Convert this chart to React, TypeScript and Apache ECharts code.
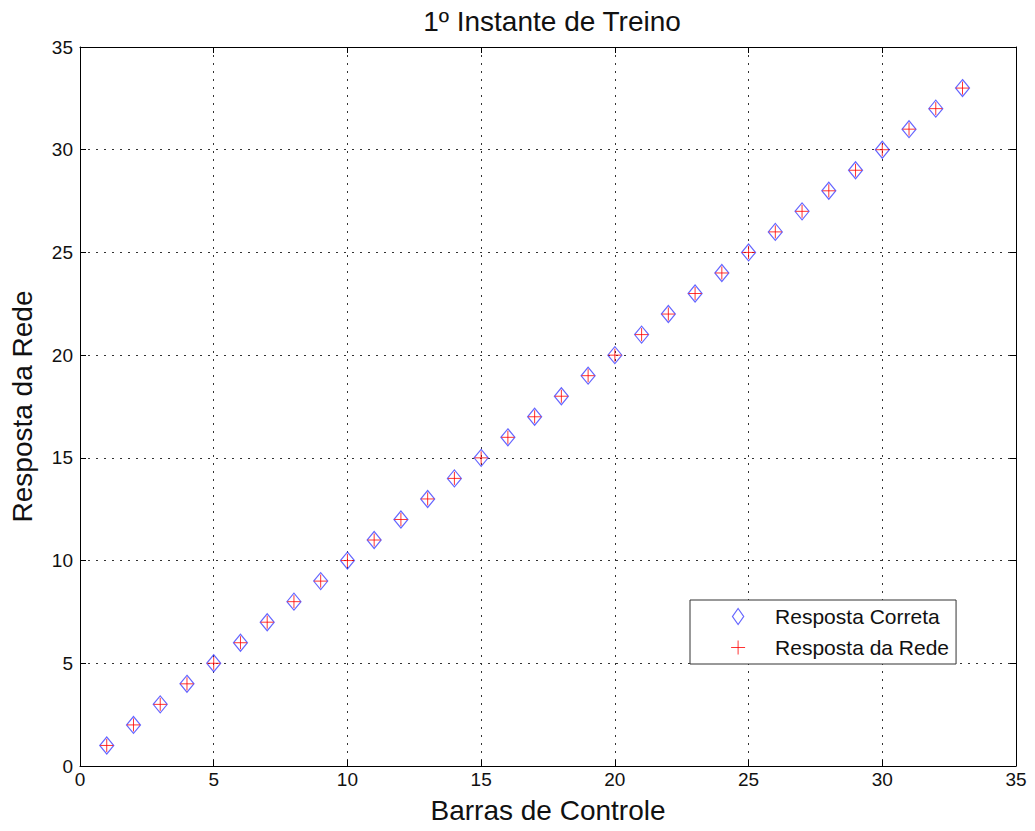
import React, { useEffect, useRef } from "react";
import * as echarts from "echarts";

const barras = [1, 2, 3, 4, 5, 6, 7, 8, 9, 10, 11, 12, 13, 14, 15, 16, 17, 18, 19, 20, 21, 22, 23, 24, 25, 26, 27, 28, 29, 30, 31, 32, 33];
const respostaCorreta = [1, 2, 3, 4, 5, 6, 7, 8, 9, 10, 11, 12, 13, 14, 15, 16, 17, 18, 19, 20, 21, 22, 23, 24, 25, 26, 27, 28, 29, 30, 31, 32, 33];
const respostaRede = [1, 2, 3, 4, 5, 6, 7, 8, 9, 10, 11, 12, 13, 14, 15, 16, 17, 18, 19, 20, 21, 22, 23, 24, 25, 26, 27, 28, 29, 30, 31, 32, 33];

const FONT = "Liberation Sans, Arial, Helvetica, sans-serif";
const PLUS = "path://M0,-10L0,10M-10,0L10,0";
const DIAMOND = "path://M0,-10L7,0L0,10L-7,0Z";
const BLUE = "#3f3fff";
const RED = "#ff0000";

export default function App() {
  const ref = useRef<HTMLDivElement>(null);
  useEffect(() => {
    document.body.style.margin = "0";
    const chart = echarts.init(ref.current!, undefined, { renderer: "svg" });
    const axisCommon = {
      min: 0,
      max: 35,
      interval: 5,
      axisLine: { show: true, onZero: false, lineStyle: { color: "#000", width: 1 } },
      axisTick: { show: true, inside: true, length: 6, lineStyle: { color: "#000" } },
    };
    chart.setOption({
      animation: false,
      backgroundColor: "#fff",
      title: {
        text: "1º Instante de Treino",
        left: 547,
        textAlign: "center",
        top: 2,
        textStyle: { fontFamily: FONT, fontSize: 28, fontWeight: "normal", color: "#111" },
      },
      grid: { left: 78, right: 19, top: 47, bottom: 65, containLabel: false },
      legend: {
        left: 690,
        top: 600,
        orient: "vertical",
        backgroundColor: "#fff",
        borderColor: "#333",
        borderWidth: 1,
        borderRadius: 0,
        padding: [6, 7, 6, 40],
        itemWidth: 14,
        itemHeight: 16,
        itemGap: 10,
        textStyle: { fontFamily: FONT, fontSize: 21, color: "#111", padding: [0, 0, 0, 25] },
        data: [
          { name: "Resposta Correta", icon: DIAMOND, itemStyle: { color: "none", borderColor: BLUE, borderWidth: 1.2 } },
          { name: "Resposta da Rede", icon: PLUS, itemStyle: { color: RED, borderColor: RED, borderWidth: 1 } },
        ],
      },
      xAxis: [
        {
          ...axisCommon,
          type: "value",
          position: "bottom",
          name: "Barras de Controle",
          nameLocation: "middle",
          nameGap: 30,
          nameTextStyle: { fontFamily: FONT, fontSize: 28, color: "#111" },
          axisLabel: { fontFamily: FONT, fontSize: 19, color: "#111", margin: 4 },
          splitLine: { show: true, lineStyle: { color: "#333", type: [2, 6], width: 1 } },
        },
        {
          ...axisCommon,
          type: "value",
          position: "top",
          axisLabel: { show: false },
          splitLine: { show: false },
        },
      ],
      yAxis: [
        {
          ...axisCommon,
          type: "value",
          position: "left",
          name: "Resposta da Rede",
          nameLocation: "middle",
          nameGap: 44,
          nameTextStyle: { fontFamily: FONT, fontSize: 28, color: "#111" },
          axisLabel: { fontFamily: FONT, fontSize: 19, color: "#111", margin: 7 },
          splitLine: { show: true, lineStyle: { color: "#333", type: [2, 6], width: 1 } },
        },
        {
          ...axisCommon,
          type: "value",
          position: "right",
          axisLabel: { show: false },
          splitLine: { show: false },
        },
      ],
      series: [
        {
          name: "Resposta Correta",
          type: "scatter",
          data: barras.map((x, i) => [x, respostaCorreta[i]]),
          symbol: DIAMOND,
          symbolSize: [14, 17],
          itemStyle: { color: "none", borderColor: BLUE, borderWidth: 1.2 },
          z: 2,
        },
        {
          name: "Resposta da Rede",
          type: "scatter",
          data: barras.map((x, i) => [x, respostaRede[i]]),
          symbol: PLUS,
          symbolSize: [13, 13],
          itemStyle: { color: RED, borderColor: RED, borderWidth: 1 },
          z: 3,
        },
      ],
    });
    return () => chart.dispose();
  }, []);
  return <div ref={ref} style={{ width: 1035, height: 831 }} />;
}
